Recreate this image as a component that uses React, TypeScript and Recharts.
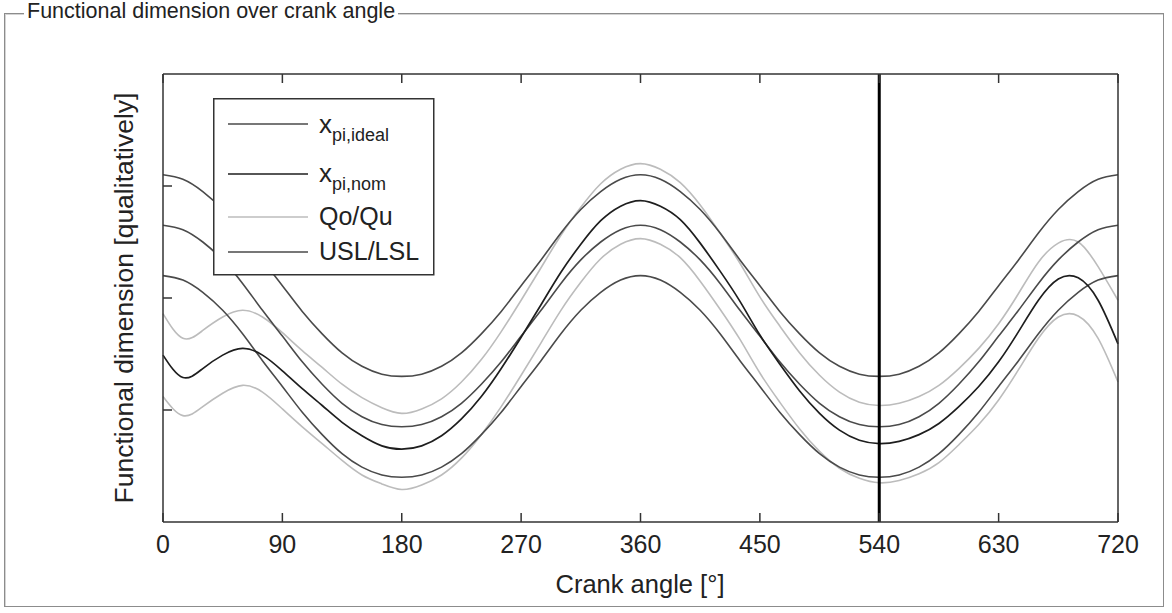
import React from 'react';
import { LineChart, Line, XAxis, YAxis, ReferenceLine, Legend } from 'recharts';

// crank angle in degrees, every 15 deg
const angles: number[] = [
  0, 15, 30, 45, 60, 75, 90, 105, 120, 135, 150, 165, 180,
  195, 210, 225, 240, 255, 270, 285, 300, 315, 330, 345, 360,
  375, 390, 405, 420, 435, 450, 465, 480, 495, 510, 525, 540,
  555, 570, 585, 600, 615, 630, 645, 660, 675, 690, 705, 720,
];

const ideal: number[] = [
  2.65, 2.61, 2.5, 2.34, 2.13, 1.89, 1.66, 1.43, 1.23, 1.06, 0.94, 0.87, 0.85,
  0.87, 0.94, 1.06, 1.23, 1.43, 1.66, 1.89, 2.13, 2.34, 2.5, 2.61, 2.65,
  2.61, 2.5, 2.34, 2.13, 1.89, 1.66, 1.43, 1.23, 1.06, 0.94, 0.87, 0.85,
  0.87, 0.94, 1.06, 1.23, 1.43, 1.66, 1.89, 2.13, 2.34, 2.5, 2.61, 2.65,
];

const nom: number[] = [
  1.49, 1.29, 1.37, 1.49, 1.55, 1.49, 1.35, 1.19, 1.04, 0.89, 0.77, 0.68, 0.65,
  0.68, 0.77, 0.92, 1.12, 1.37, 1.65, 1.94, 2.23, 2.48, 2.69, 2.82, 2.87,
  2.82, 2.7, 2.49, 2.24, 1.97, 1.67, 1.41, 1.17, 0.97, 0.82, 0.73, 0.7,
  0.72, 0.78, 0.88, 1.03, 1.21, 1.43, 1.7, 1.98, 2.17, 2.18, 1.98, 1.59,
];

const qo: number[] = [
  1.86, 1.64, 1.71, 1.83, 1.89, 1.83, 1.69, 1.53, 1.38, 1.23, 1.11, 1.02, 0.97,
  1.01, 1.1, 1.25, 1.45, 1.7, 1.98, 2.27, 2.56, 2.81, 3.02, 3.15, 3.2,
  3.15, 3.03, 2.83, 2.58, 2.31, 2.01, 1.75, 1.51, 1.31, 1.16, 1.07, 1.04,
  1.06, 1.12, 1.22, 1.37, 1.55, 1.77, 2.04, 2.32, 2.49, 2.5, 2.28, 1.98,
];

const qu: number[] = [
  1.12, 0.95, 1.03, 1.15, 1.22, 1.16, 1.01, 0.85, 0.7, 0.55, 0.42, 0.34, 0.29,
  0.33, 0.42, 0.57, 0.78, 1.03, 1.31, 1.6, 1.89, 2.14, 2.35, 2.48, 2.53,
  2.48, 2.36, 2.15, 1.9, 1.63, 1.33, 1.07, 0.83, 0.63, 0.48, 0.39, 0.35,
  0.37, 0.43, 0.53, 0.69, 0.87, 1.09, 1.36, 1.64, 1.83, 1.84, 1.64, 1.25,
];

const usl: number[] = [
  3.1, 3.06, 2.95, 2.79, 2.58, 2.34, 2.11, 1.88, 1.68, 1.51, 1.39, 1.32, 1.3,
  1.32, 1.39, 1.51, 1.68, 1.88, 2.11, 2.34, 2.58, 2.79, 2.95, 3.06, 3.1,
  3.06, 2.95, 2.79, 2.58, 2.34, 2.11, 1.88, 1.68, 1.51, 1.39, 1.32, 1.3,
  1.32, 1.39, 1.51, 1.68, 1.88, 2.11, 2.34, 2.58, 2.79, 2.95, 3.06, 3.1,
];

const lsl: number[] = [
  2.2, 2.16, 2.05, 1.89, 1.68, 1.44, 1.21, 0.98, 0.78, 0.61, 0.49, 0.42, 0.4,
  0.42, 0.49, 0.61, 0.78, 0.98, 1.21, 1.44, 1.68, 1.89, 2.05, 2.16, 2.2,
  2.16, 2.05, 1.89, 1.68, 1.44, 1.21, 0.98, 0.78, 0.61, 0.49, 0.42, 0.4,
  0.42, 0.49, 0.61, 0.78, 0.98, 1.21, 1.44, 1.68, 1.89, 2.05, 2.16, 2.2,
];

const xTicks: number[] = [0, 90, 180, 270, 360, 450, 540, 630, 720];
const yTicks: number[] = [1, 2, 3];

const data = angles.map((deg, i) => ({
  deg,
  ideal: ideal[i],
  nom: nom[i],
  qo: qo[i],
  qu: qu[i],
  usl: usl[i],
  lsl: lsl[i],
}));

const FONT = '"Liberation Sans", Arial, sans-serif';
const AXIS = '#333';
const DARK = '#4a4a4a';
const NOM = '#1e1e1e';
const LIGHT = '#bcbcbc';

const BottomTick = (props: any) => {
  const { x, y, payload } = props;
  return (
    <g>
      <line x1={x} y1={y} x2={x} y2={y - 9} stroke={AXIS} strokeWidth={1.5} />
      <text x={x} y={y + 31} textAnchor="middle" fontSize={25} fontFamily={FONT} fill="#222">
        {payload.value}
      </text>
    </g>
  );
};

const TopTick = (props: any) => {
  const { x, y } = props;
  return <line x1={x} y1={y} x2={x} y2={y + 9} stroke={AXIS} strokeWidth={1.5} />;
};

const LeftTick = (props: any) => {
  const { x, y } = props;
  return <line x1={x} y1={y} x2={x + 9} y2={y} stroke={AXIS} strokeWidth={1.5} />;
};

const RightTick = (props: any) => {
  const { x, y } = props;
  return <line x1={x} y1={y} x2={x - 9} y2={y} stroke={AXIS} strokeWidth={1.5} />;
};

const LegendBox = () => (
  <svg width={222} height={178} style={{ display: 'block' }}>
    <rect x={0.75} y={0.75} width={220} height={176} fill="#fff" stroke={AXIS} strokeWidth={1.5} />
    <line x1={15} y1={26} x2={95} y2={26} stroke={DARK} strokeWidth={1.6} />
    <line x1={15} y1={76} x2={95} y2={76} stroke={NOM} strokeWidth={1.6} />
    <line x1={15} y1={119} x2={95} y2={119} stroke={LIGHT} strokeWidth={1.6} />
    <line x1={15} y1={154} x2={95} y2={154} stroke={DARK} strokeWidth={1.6} />
    <g fontFamily={FONT} fill="#222">
      <text x={106} y={35} fontSize={26}>
        x<tspan fontSize={18} dy={8}>pi,ideal</tspan>
      </text>
      <text x={106} y={84} fontSize={26}>
        x<tspan fontSize={18} dy={8}>pi,nom</tspan>
      </text>
      <text x={106} y={127} fontSize={25}>Qo/Qu</text>
      <text x={106} y={162} fontSize={25}>USL/LSL</text>
    </g>
  </svg>
);

const App: React.FC = () => {
  return (
    <div style={{ position: 'absolute', left: 0, top: 0, width: 1172, height: 613, background: '#fff', fontFamily: FONT }}>
      <div
        style={{
          position: 'absolute',
          left: 4,
          top: 13,
          width: 1158,
          height: 592,
          border: '1px solid #8c8c8c',
          boxShadow: 'inset 1px 1px 0 #d4d4d4',
        }}
      />
      <div
        style={{
          position: 'absolute',
          left: 24,
          top: 0,
          padding: '0 3px',
          background: '#fff',
          fontSize: 21.5,
          lineHeight: '22px',
          color: '#222',
          whiteSpace: 'nowrap',
        }}
      >
        Functional dimension over crank angle
      </div>

      <div style={{ position: 'absolute', left: 0, top: 0 }}>
        <LineChart width={1172} height={613} data={data} margin={{ top: 44, right: 24, bottom: 61, left: 133 }}>
          <XAxis
            dataKey="deg"
            type="number"
            domain={[0, 720]}
            ticks={xTicks}
            interval={0}
            height={30}
            tickSize={0}
            tickMargin={0}
            tick={<BottomTick />}
            axisLine={{ stroke: AXIS, strokeWidth: 1.5 }}
          />
          <XAxis
            xAxisId="top"
            orientation="top"
            dataKey="deg"
            type="number"
            domain={[0, 720]}
            ticks={xTicks}
            interval={0}
            height={30}
            tickSize={0}
            tickMargin={0}
            tick={<TopTick />}
            axisLine={{ stroke: AXIS, strokeWidth: 1.5 }}
          />
          <YAxis
            type="number"
            domain={[0, 4]}
            ticks={yTicks}
            interval={0}
            width={30}
            tickSize={0}
            tickMargin={0}
            tick={<LeftTick />}
            axisLine={{ stroke: AXIS, strokeWidth: 1.5 }}
          />
          <YAxis
            yAxisId="right"
            orientation="right"
            type="number"
            domain={[0, 4]}
            ticks={yTicks}
            interval={0}
            width={30}
            tickSize={0}
            tickMargin={0}
            tick={<RightTick />}
            axisLine={{ stroke: AXIS, strokeWidth: 1.5 }}
          />
          <Line type="natural" dataKey="qo" stroke={LIGHT} strokeWidth={1.6} dot={false} isAnimationActive={false} />
          <Line type="natural" dataKey="qu" stroke={LIGHT} strokeWidth={1.6} dot={false} isAnimationActive={false} />
          <Line type="natural" dataKey="usl" stroke={DARK} strokeWidth={1.6} dot={false} isAnimationActive={false} />
          <Line type="natural" dataKey="lsl" stroke={DARK} strokeWidth={1.6} dot={false} isAnimationActive={false} />
          <Line type="natural" dataKey="ideal" stroke={DARK} strokeWidth={1.6} dot={false} isAnimationActive={false} />
          <Line type="natural" dataKey="nom" stroke={NOM} strokeWidth={1.7} dot={false} isAnimationActive={false} />
          <ReferenceLine x={540} stroke="#000" strokeWidth={3} />
          <Legend
            layout="vertical"
            align="center"
            verticalAlign="middle"
            content={<LegendBox />}
            wrapperStyle={{ left: 213, top: 98, width: 222, height: 178 }}
          />
        </LineChart>
      </div>

      <div
        style={{
          position: 'absolute',
          left: 124 - 260,
          top: 298 - 15,
          width: 520,
          lineHeight: '30px',
          fontSize: 26.5,
          textAlign: 'center',
          color: '#222',
          transform: 'rotate(-90deg)',
          whiteSpace: 'nowrap',
        }}
      >
        Functional dimension [qualitatively]
      </div>
      <div
        style={{
          position: 'absolute',
          left: 640 - 200,
          top: 569,
          width: 400,
          lineHeight: '30px',
          fontSize: 25.5,
          textAlign: 'center',
          color: '#222',
          whiteSpace: 'nowrap',
        }}
      >
        Crank angle [°]
      </div>
    </div>
  );
};

export default App;
